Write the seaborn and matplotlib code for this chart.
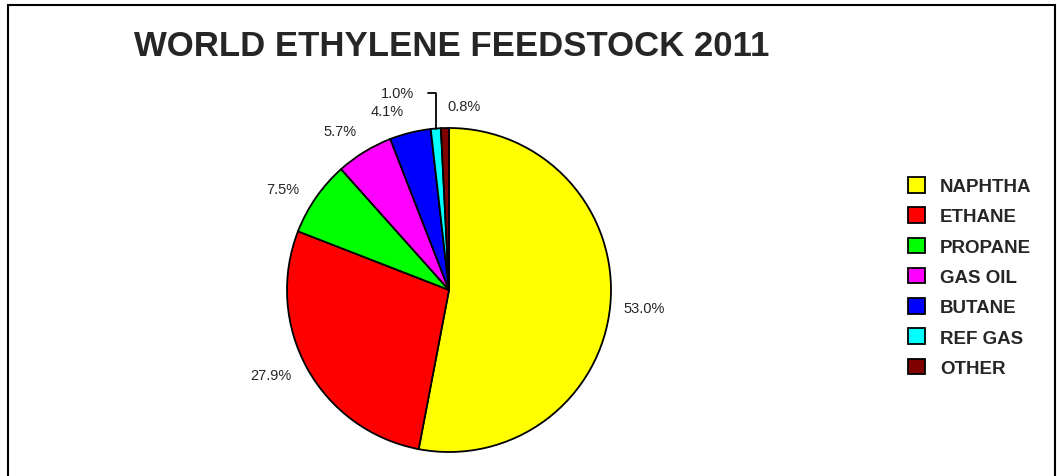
import matplotlib
matplotlib.use("Agg")
import numpy as np
import matplotlib.pyplot as plt
import seaborn as sns
from matplotlib.patches import Rectangle

# chart data
feedstocks = ["NAPHTHA", "ETHANE", "PROPANE", "GAS OIL", "BUTANE", "REF GAS", "OTHER"]
shares = [53.0, 27.9, 7.5, 5.7, 4.1, 1.0, 0.8]
colors = ["#ffff00", "#ff0000", "#00ff00", "#ff00ff", "#0000ff", "#00ffff", "#800000"]
title = "WORLD ETHYLENE FEEDSTOCK 2011"

# label layout: (angle nudge in degrees, distance in radii)
label_layout = [(0, 1.21), (-3.6, 1.22), (3.4, 1.20), (2.9, 1.19),
                (5.2, 1.17), (10.0, 1.26), (-6.1, 1.14)]

sns.set_style("white")
plt.rcParams["font.family"] = ["Liberation Sans", "DejaVu Sans"]

W, H, DPI = 1057, 477, 100
fig = plt.figure(figsize=(W / DPI, H / DPI), dpi=DPI)
ax = fig.add_axes([0, 0, 1, 1])

# pie centre and radius in pixels
cx, cy, R = 449, H - 291, 162

wedges, _ = ax.pie(shares, colors=colors, startangle=90, counterclock=False,
                   radius=1, wedgeprops=dict(edgecolor="black", linewidth=1.3))
ax.set_xlim(-cx / R, (W - cx) / R)
ax.set_ylim(-cy / R, (H - cy) / R)
ax.axis("off")

for w, val, (nudge, dist) in zip(wedges, shares, label_layout):
    mid = np.deg2rad((w.theta1 + w.theta2) / 2 + nudge)
    ax.text(dist * np.cos(mid), dist * np.sin(mid), f"{val:.1f}%",
            ha="center", va="center", fontsize=10.5)

# leader line for the small REF GAS slice
w = wedges[5]
m = np.deg2rad((w.theta1 + w.theta2) / 2)
nudge, dist = label_layout[5]
ly = dist * np.sin(np.deg2rad((w.theta1 + w.theta2) / 2 + nudge))
px, py = np.cos(m), np.sin(m)
ax.plot([px - 0.05, px, px], [ly, ly, py], color="black", lw=1.3)

fig.text(452 / W, 1 - 46 / H, title, ha="center", va="center",
         fontsize=25, fontweight="bold")

fig.legend(wedges, feedstocks, loc="upper left",
           bbox_to_anchor=(908 / W, 1 - 178 / H), frameon=False,
           prop=dict(weight="bold", size=13.5), handlelength=0.9,
           handleheight=0.9, handletextpad=0.8, labelspacing=0.64,
           borderpad=0, borderaxespad=0)

fig.add_artist(Rectangle((8 / W, -0.1), (1055 - 8) / W, (H - 6) / H + 0.1,
                         transform=fig.transFigure, fill=False,
                         edgecolor="black", linewidth=1.5))

fig.savefig("out.png", dpi=DPI)
